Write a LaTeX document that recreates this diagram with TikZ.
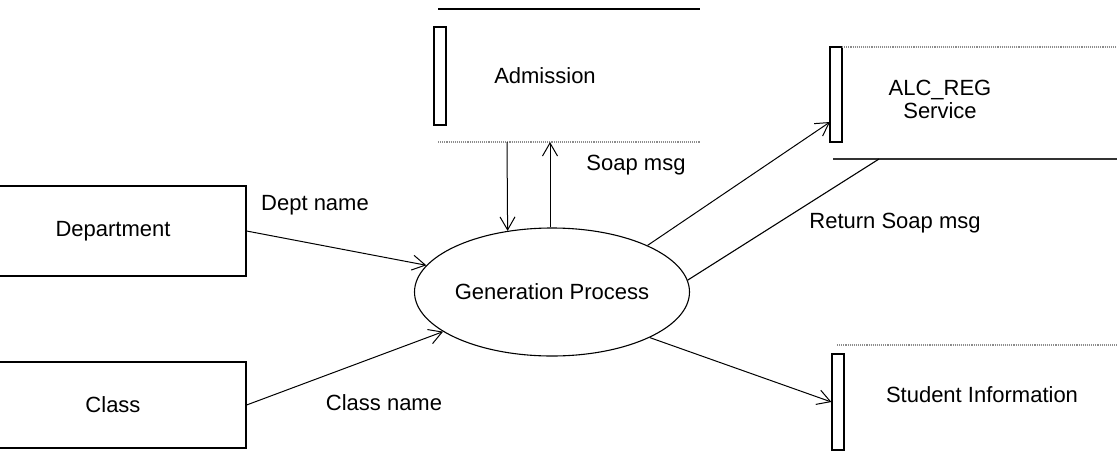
\documentclass[tikz,border=0pt]{standalone}
\usepackage{fontspec}
\setmainfont{Liberation Sans}
\usetikzlibrary{arrows.meta,shapes.geometric}
\begin{document}
\begin{tikzpicture}[x=1pt,y=-1pt,
  every node/.style={font=\fontsize{22}{25}\selectfont, inner sep=0pt},
  entity/.style={draw, line width=1.2pt, minimum width=266pt},
  proc/.style={draw, ellipse, line width=1.1pt, minimum width=264pt, minimum height=128pt},
  storebar/.style={draw, line width=1.1pt, minimum width=12pt},
  edge/.style={line width=1.1pt},
  faint/.style={line width=1.1pt, black!45, densely dotted},
  flow/.style={line width=1pt, -{Straight Barb[length=13pt,width=15pt]}},
  lbl/.style={}]
\useasboundingbox (0,0) rectangle (1117,464);

% external entities
\node[entity, minimum height=90pt] (dept) at (113,231) {Department};
\node[entity, minimum height=86pt] (class) at (113,405) {Class};

% central process
\node[proc] (gen) at (552,292) {Generation Process};

% data store: Admission
\node[storebar, minimum height=98pt] (admbar) at (440,76) {};
\node (admtxt) at (545,76) {Admission};
\coordinate (admtl) at (438,9);   \coordinate (admtr) at (700,9);
\coordinate (admbl) at (438,142); \coordinate (admbr) at (700,142);
\draw[edge] (admtl) -- (admtr);
\draw[faint] (admbl) -- (admbr);

% data store: ALC_REG Service
\node[storebar, minimum height=95pt] (alcbar) at (836,94.5) {};
\node[align=center] (alctxt) at (940,99) {ALC\_REG\\[-2pt]Service};
\coordinate (alctl) at (842,47);  \coordinate (alctr) at (1117,47);
\coordinate (alcbl) at (833,159); \coordinate (alcbr) at (1117,159);
\draw[faint] (alctl) -- (alctr);
\draw[edge, black!80] (alcbl) -- (alcbr);

% data store: Student Information
\node[storebar, minimum height=96pt] (stubar) at (838,402) {};
\node (stutxt) at (982,395) {Student Information};
\coordinate (stutl) at (837,345); \coordinate (stutr) at (1117,345);
\draw[faint] (stutl) -- (stutr);

% attachment points on the stores
\coordinate (admdn) at (507,142);
\coordinate (admup) at (550,142);
\coordinate (alcin) at (830,122);
\coordinate (alcret) at (879,159);

% flows
\draw[flow] (dept.east) -- (gen.168.9);
\draw[flow] (class.east) -- (gen.200.5);
\draw[flow] (admdn) -- (gen.126.8);
\draw[flow] (admup |- gen.north) -- (admup);
\draw[flow] (gen.26.3) -- (alcin);
\draw[edge] (alcret) -- (gen.5.3);
\draw[flow] (gen.-25.1) -- (stubar.west);

% flow labels
\node[lbl] (l1) at (315,205) {Dept name};
\node[lbl] (l2) at (384,403) {Class name};
\node[lbl] (l3) at (636,165) {Soap msg};
\node[lbl] (l4) at (895,223) {Return Soap msg};
\end{tikzpicture}
\end{document}
